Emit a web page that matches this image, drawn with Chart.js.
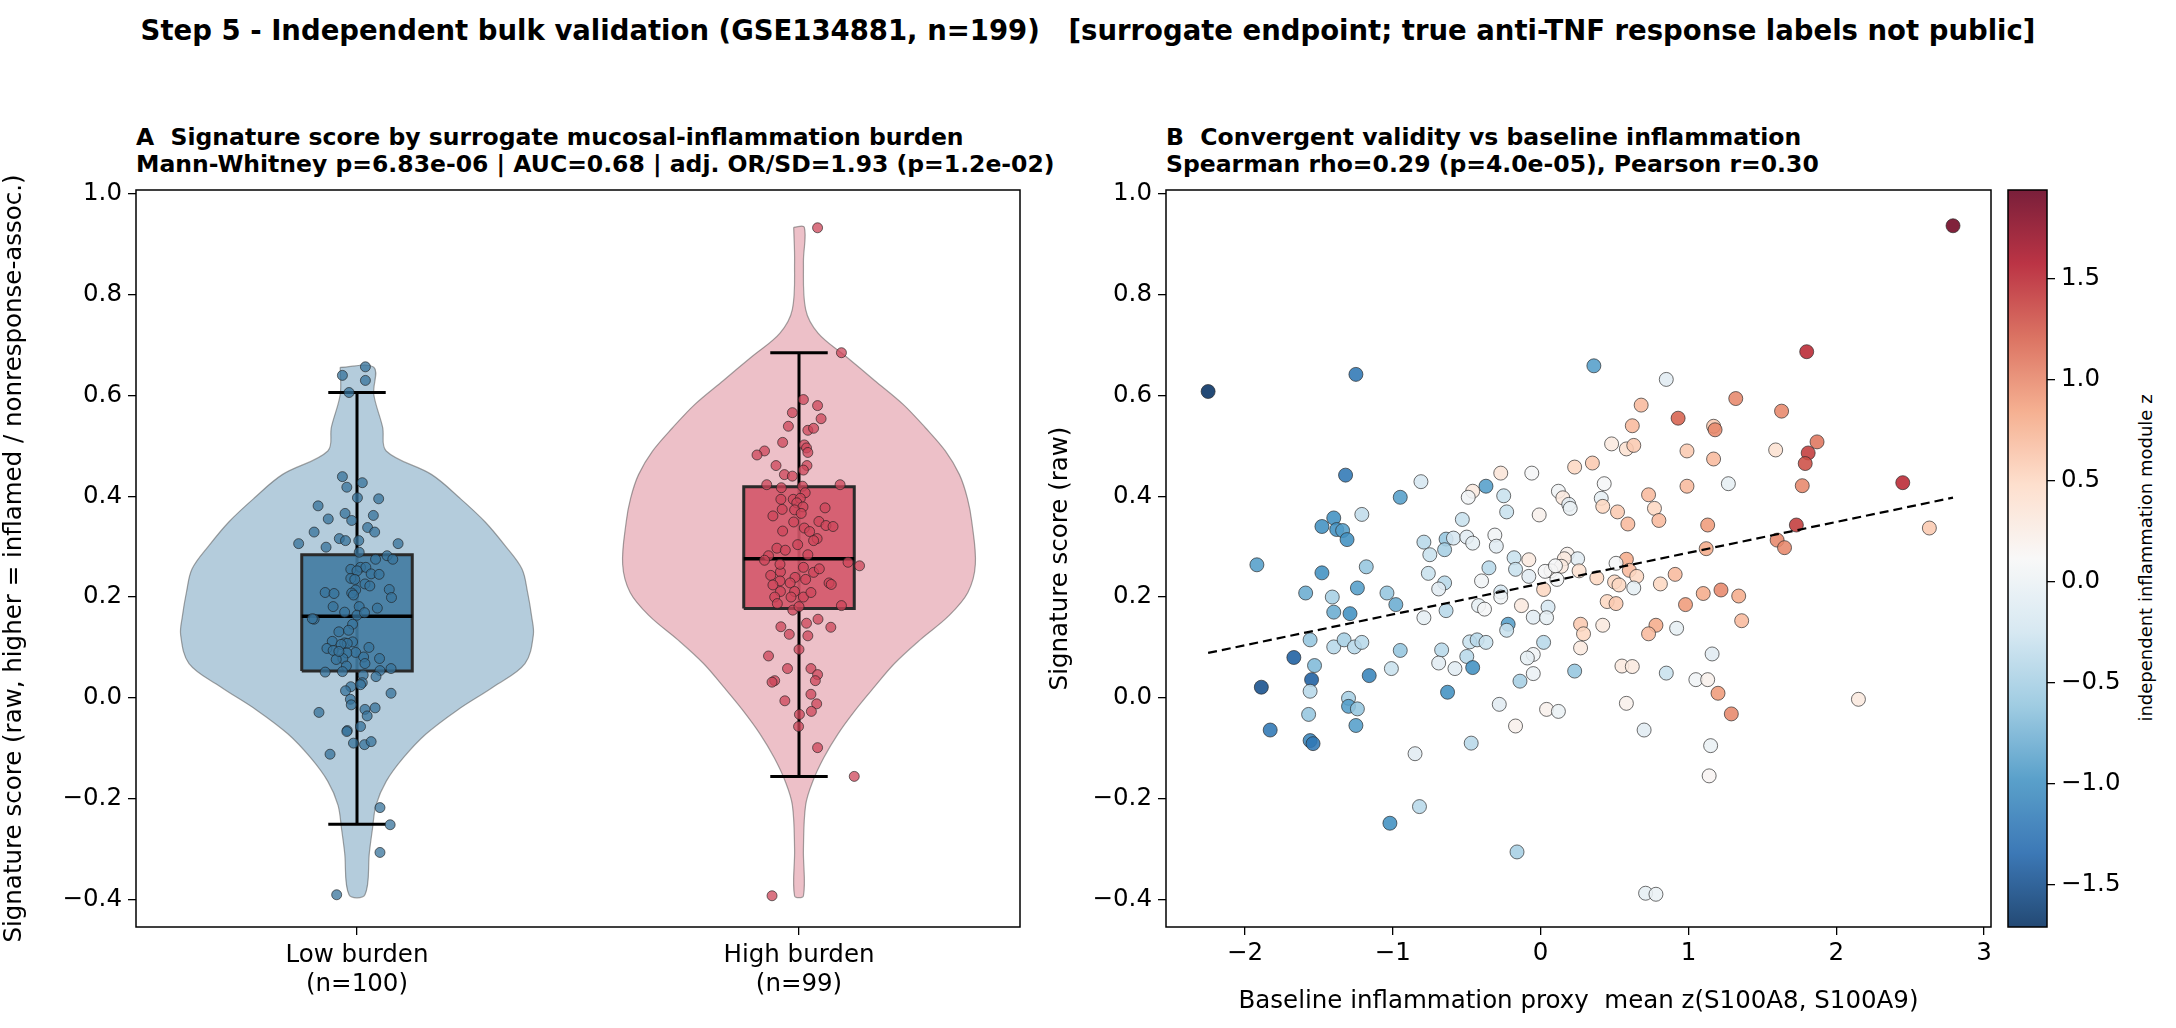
<!DOCTYPE html>
<html><head><meta charset="utf-8">
<script src="https://cdn.jsdelivr.net/npm/chart.js@4.4.1/dist/chart.umd.min.js"></script>
<style>
html,body{margin:0;padding:0;background:#fff;width:2176px;height:1028px;overflow:hidden;font-family:"DejaVu Sans",sans-serif;}
canvas{position:absolute;left:0;top:0;}
.t{position:absolute;white-space:pre;font-weight:bold;color:#000;}
</style></head><body>
<div class="t" style="left:0;width:2176px;text-align:center;top:14px;font-size:27.5px;">Step 5 - Independent bulk validation (GSE134881, n=199)   [surrogate endpoint; true anti-TNF response labels not public]</div>
<div class="t" style="left:136px;top:124px;font-size:23.5px;line-height:27px;">A  Signature score by surrogate mucosal-inflammation burden
Mann-Whitney p=6.83e-06 | AUC=0.68 | adj. OR/SD=1.93 (p=1.2e-02)</div>
<div class="t" style="left:1166px;top:124px;font-size:23.5px;line-height:27px;">B  Convergent validity vs baseline inflammation
Spearman rho=0.29 (p=4.0e-05), Pearson r=0.30</div>
<div style="position:absolute;left:2145px;top:558px;transform:translate(-50%,-50%) rotate(-90deg);font-size:18px;white-space:nowrap;">independent inflammation module z</div>
<canvas id="ca" width="2176" height="1028"></canvas>
<canvas id="cb" width="2176" height="1028"></canvas>
<canvas id="cc" width="2176" height="1028"></canvas>
<script>
// ---------- Panel A data ----------
const groupLabels = [['Low burden','(n=100)'],['High burden','(n=99)']];
const violinLowY  = [0.656,0.602,0.537,0.490,0.443,0.396,0.349,0.302,0.256,0.209,0.162,0.125,0.068,0.022,-0.025,-0.072,-0.119,-0.166,-0.213,-0.260,-0.307,-0.391];
const violinLowW  = [0.038,0.038,0.058,0.066,0.169,0.233,0.290,0.335,0.373,0.386,0.395,0.399,0.380,0.309,0.226,0.156,0.105,0.066,0.043,0.035,0.028,0.018];
const violinHighY = [0.934,0.865,0.771,0.724,0.677,0.630,0.583,0.536,0.490,0.443,0.396,0.349,0.265,0.209,0.162,0.115,0.068,0.022,-0.025,-0.072,-0.119,-0.166,-0.213,-0.300,-0.393];
const violinHighW = [0.012,0.010,0.015,0.043,0.107,0.171,0.235,0.286,0.331,0.363,0.381,0.391,0.399,0.382,0.338,0.274,0.216,0.171,0.127,0.088,0.056,0.031,0.015,0.010,0.010];
const boxLow  = {lo:-0.251, q1:0.053, med:0.162, q3:0.284, hi:0.606};
const boxHigh = {lo:-0.156, q1:0.177, med:0.276, q3:0.419, hi:0.685};
const lowJitter = [0.019,-0.033,0.019,-0.018,-0.033,0.012,-0.023,0.001,0.049,-0.088,-0.027,-0.065,0.037,-0.012,0.024,-0.097,0.040,-0.040,-0.026,0.004,-0.132,0.093,-0.070,0.005,0.068,0.042,0.081,-0.014,0.008,0.020,0.032,0.050,0.000,-0.014,0.018,0.073,-0.003,-0.072,-0.052,-0.012,0.078,-0.008,-0.054,0.046,-0.028,0.005,0.000,0.017,-0.097,-0.101,-0.010,-0.041,-0.019,-0.056,-0.028,-0.010,-0.022,-0.036,0.027,-0.068,-0.054,-0.003,-0.023,-0.032,0.015,0.051,-0.047,0.018,-0.024,0.077,-0.072,0.052,-0.033,0.014,0.043,0.012,0.008,-0.014,-0.026,0.077,-0.015,-0.013,0.041,0.018,0.023,-0.086,-0.022,-0.023,0.008,-0.008,0.017,0.032,-0.061,0.052,0.075,0.052,-0.046,-0.005,0.029,-0.041];
const lowScores = [0.657,0.640,0.630,0.606,0.439,0.427,0.418,0.397,0.395,0.381,0.366,0.355,0.362,0.352,0.338,0.329,0.329,0.316,0.312,0.312,0.306,0.306,0.299,0.289,0.282,0.275,0.275,0.255,0.259,0.259,0.246,0.245,0.252,0.237,0.226,0.215,0.214,0.209,0.207,0.208,0.199,0.204,0.181,0.178,0.170,0.181,0.164,0.169,0.156,0.157,0.146,0.131,0.134,0.112,0.109,0.111,0.108,0.106,0.100,0.098,0.094,0.090,0.089,0.078,0.081,0.078,0.076,0.068,0.063,0.058,0.051,0.054,0.052,0.045,0.042,0.030,0.026,0.022,0.014,0.009,-0.003,-0.014,-0.020,-0.023,-0.036,-0.029,-0.065,-0.067,-0.057,-0.090,-0.093,-0.087,-0.112,-0.218,-0.252,-0.307,-0.391,0.235,0.222,0.092];
const highJitter = [0.042,0.096,0.010,0.042,-0.015,0.050,-0.024,0.020,0.033,-0.037,0.012,0.017,-0.078,-0.095,0.020,-0.052,0.018,0.010,-0.033,-0.015,-0.073,-0.040,0.008,0.093,0.014,-0.013,-0.041,0.003,-0.005,0.009,0.059,-0.038,-0.010,0.005,-0.059,0.045,0.061,0.077,0.012,0.024,0.041,-0.003,-0.050,-0.069,-0.078,0.111,0.137,0.010,0.033,-0.042,-0.064,-0.009,0.015,-0.043,-0.020,-0.059,0.068,0.073,-0.042,-0.010,-0.055,0.010,-0.049,0.096,-0.014,0.000,0.043,0.017,-0.041,0.072,-0.022,0.020,0.000,-0.069,0.027,-0.026,0.042,0.037,-0.055,-0.061,0.027,-0.032,0.040,0.028,0.001,-0.001,0.042,0.125,-0.061,-0.031,0.033,-0.012,-0.037,0.020,0.046,-0.018,0.027,-0.043];
const highScores = [0.933,0.685,0.592,0.580,0.566,0.554,0.539,0.531,0.535,0.507,0.502,0.496,0.490,0.482,0.487,0.461,0.461,0.452,0.443,0.440,0.423,0.417,0.420,0.423,0.407,0.394,0.394,0.396,0.387,0.379,0.377,0.374,0.373,0.366,0.361,0.350,0.342,0.340,0.337,0.330,0.316,0.304,0.297,0.282,0.273,0.269,0.262,0.259,0.249,0.250,0.243,0.239,0.235,0.232,0.228,0.224,0.228,0.225,0.211,0.211,0.200,0.200,0.187,0.183,0.174,0.181,0.156,0.148,0.141,0.140,0.126,0.123,0.096,0.083,0.058,0.058,0.046,0.034,0.034,0.031,0.007,-0.006,-0.012,-0.027,-0.033,-0.057,-0.099,-0.156,-0.393,0.293,0.312,0.349,0.331,0.284,0.256,0.200,0.209,0.265];
const yTicksA = [-0.4,-0.2,0.0,0.2,0.4,0.6,0.8,1.0];

// ---------- Panel B data ----------
const proxyX = [2.79,-2.25,-1.25,0.36,1.80,0.85,1.32,0.68,0.93,1.63,0.62,1.17,1.18,0.48,0.58,0.63,0.99,1.59,1.87,1.81,1.79,1.17,0.23,0.35,-0.27,-0.06,-1.32,0.99,1.77,1.27,2.45,-0.81,-0.37,-0.46,-0.49,-0.25,-0.95,0.12,0.15,0.19,0.20,0.43,0.41,0.42,0.52,0.73,0.77,0.80,0.59,-0.01,-0.23,-1.21,-1.40,-1.48,-1.38,-1.34,-1.31,1.13,1.73,2.63,1.60,1.65,1.12,-0.53,-0.31,-0.30,-0.79,-0.64,-0.59,-0.50,-0.46,-0.75,-0.65,-0.18,-0.08,0.18,0.25,0.16,0.14,0.07,0.03,0.26,0.38,0.11,0.02,-0.17,-0.08,0.58,0.51,0.60,0.65,0.50,0.53,0.63,0.81,0.91,1.10,1.22,1.34,0.98,1.36,-0.76,-0.35,-0.65,-0.69,-0.40,-0.27,-0.27,-0.42,-0.38,-0.13,0.05,-0.05,0.04,0.45,0.51,0.27,0.42,0.78,0.73,0.92,0.29,0.27,-0.79,-0.64,-0.98,-1.04,-1.24,-1.18,-1.48,-1.92,-1.59,-1.41,-1.40,-1.29,-0.22,-0.23,-1.56,-1.40,-1.33,-1.26,-1.21,-0.95,-1.67,-1.53,-1.55,-1.56,-1.89,-1.16,-1.01,-0.67,-0.69,-0.58,-0.50,-0.48,-0.43,-0.37,-0.46,0.02,-0.05,-0.09,-0.05,-0.14,0.23,0.55,0.62,0.85,1.16,1.05,1.13,1.20,1.29,2.15,0.58,0.04,0.12,-0.28,-0.17,-0.63,-1.30,-1.30,-1.24,-1.57,-1.25,-1.83,-1.56,-1.54,-0.47,-0.85,0.70,1.15,1.14,-0.82,-1.02,-0.16,0.71,0.78,0.10];
const scoreY = [0.937,0.608,0.642,0.659,0.687,0.632,0.594,0.581,0.555,0.569,0.540,0.539,0.532,0.504,0.494,0.501,0.490,0.492,0.508,0.486,0.465,0.474,0.458,0.466,0.446,0.446,0.442,0.420,0.421,0.425,0.427,0.429,0.420,0.410,0.398,0.401,0.398,0.410,0.397,0.384,0.376,0.425,0.396,0.380,0.369,0.403,0.376,0.352,0.345,0.363,0.369,0.364,0.357,0.340,0.334,0.332,0.314,0.343,0.343,0.337,0.313,0.298,0.296,0.354,0.323,0.301,0.309,0.315,0.317,0.319,0.307,0.284,0.294,0.278,0.274,0.285,0.276,0.276,0.261,0.252,0.251,0.252,0.238,0.235,0.215,0.255,0.241,0.275,0.267,0.253,0.241,0.230,0.224,0.218,0.226,0.245,0.207,0.214,0.202,0.185,0.153,0.247,0.258,0.228,0.216,0.232,0.210,0.200,0.183,0.176,0.183,0.180,0.160,0.159,0.191,0.187,0.146,0.144,0.144,0.127,0.138,0.127,0.099,0.159,0.173,0.185,0.208,0.218,0.260,0.248,0.264,0.208,0.200,0.170,0.167,0.146,0.134,0.115,0.101,0.115,0.101,0.110,0.094,0.080,0.064,0.036,0.013,0.021,0.044,0.058,0.095,0.069,0.058,0.082,0.111,0.115,0.110,0.060,0.110,0.086,0.079,0.048,0.033,0.053,0.063,0.062,0.049,0.087,0.036,0.036,0.009,-0.032,-0.003,-0.011,-0.023,-0.027,-0.013,-0.056,0.011,-0.001,-0.017,-0.022,-0.033,-0.055,-0.064,-0.085,-0.091,-0.090,-0.111,-0.064,-0.095,-0.155,-0.216,-0.249,-0.306,-0.388,-0.390,0.262];
const moduleZ = [1.9,-1.7,-1.2,-0.9,1.5,-0.1,1.0,0.7,1.2,1.0,0.7,0.6,1.0,0.3,0.4,0.6,0.6,0.4,1.1,1.4,1.3,0.7,0.5,0.6,0.35,0.1,-1.2,0.7,1.0,-0.05,1.5,-0.2,-0.9,0.3,0.05,-0.3,-0.9,0.05,0.3,-0.1,0.0,0.1,-0.05,0.5,0.6,0.7,0.5,0.7,0.7,0.2,-0.3,-0.35,-1.0,-1.0,-1.0,-0.9,-1.0,0.9,1.4,0.6,1.0,1.0,0.8,-0.3,0.05,-0.1,-0.4,-0.6,-0.2,-0.1,-0.05,-0.3,-0.5,-0.3,0.3,0.2,-0.1,0.3,0.3,0.2,0.1,0.4,0.5,0.1,0.5,-0.3,-0.1,0.8,0.1,0.7,0.5,0.5,0.5,-0.05,0.5,0.7,0.8,1.0,0.8,0.9,0.7,-0.3,-0.4,-0.4,-0.1,0.05,-0.2,0.05,-0.05,0.1,0.3,-0.2,-0.1,-0.05,0.5,0.6,0.6,0.3,0.8,0.7,-0.05,0.5,0.3,-0.05,-0.4,-0.8,-0.6,-0.9,-0.6,-1.0,-0.9,-0.8,-0.5,-0.8,-1.0,-0.9,-0.3,-0.6,-0.4,-0.5,-0.4,-0.4,-0.6,-1.4,-0.7,-1.4,-0.4,-1.5,-1.1,-0.3,-0.4,-0.1,-0.1,-0.4,-0.3,-0.4,-0.3,-1.0,-0.4,0.05,-0.05,0.0,-0.5,-0.6,0.3,0.3,-0.3,-0.1,0.05,0.2,0.9,1.0,0.3,0.2,0.2,0.0,-0.1,0.2,-1.0,-0.5,-0.9,-0.6,-0.6,-0.9,-1.2,-1.1,-1.2,-0.4,-0.1,-0.1,0.0,0.15,-0.4,-1.0,-0.5,-0.05,0.0,0.1];
const xTicksB = [-2,-1,0,1,2,3];
const yTicksB = [-0.4,-0.2,0.0,0.2,0.4,0.6,0.8,1.0];
const cbarTicks = [-1.5,-1.0,-0.5,0.0,0.5,1.0,1.5];
const zMin = -1.71, zMax = 1.94;

// ---------- helpers ----------
const FONT = {family:'"DejaVu Sans", sans-serif', size:24.5};
const minus = s => String(s).replace('-', '\u2212');
const RdBu_r = ['#053061','#2166ac','#4393c3','#92c5de','#d1e5f0','#f7f7f7','#fddbc7','#f4a582','#d6604d','#b2182b','#67001f'];
function hex(h){return [1,3,5].map(i=>parseInt(h.substr(i,2),16));}
function cmap(z, a){
  let t = Math.max(0, Math.min(1,(z-zMin)/(zMax-zMin)))*(RdBu_r.length-1);
  const i = Math.min(RdBu_r.length-2, Math.floor(t)), f = t-i;
  const c0 = hex(RdBu_r[i]), c1 = hex(RdBu_r[i+1]);
  const c = c0.map((v,k)=>Math.round(v+(c1[k]-v)*f));
  return a===undefined ? `rgb(${c})` : `rgba(${c},${a})`;
}
const frame = {id:'frame', afterDraw(ch){const a=ch.chartArea,c=ch.ctx;c.save();c.strokeStyle='#000';c.lineWidth=1.5;c.strokeRect(a.left,a.top,a.right-a.left,a.bottom-a.top);c.restore();}};
function fixW(w){return s=>{s.width=w;};}
function fixH(h){return s=>{s.height=h;};}
function axisGrid(){return {display:true, drawOnChartArea:false, color:'#000', tickLength:8, lineWidth:1.3};}

function violin(c, ys, ws){
  const pts = ys.map((y,i)=>({x:c-ws[i], y}));
  for (let i=ys.length-1;i>=0;i--) pts.push({x:c+ws[i], y:ys[i]});
  pts.push(pts[0]);
  return pts;
}
function boxPoly(c, b, hw){return [{x:c-hw,y:b.q1},{x:c+hw,y:b.q1},{x:c+hw,y:b.q3},{x:c-hw,y:b.q3},{x:c-hw,y:b.q1}];}
function lineDS(data, color, w, order){return {type:'scatter', data, showLine:true, borderColor:color, borderWidth:w, pointRadius:0, fill:false, order};}

// ---------- Panel A ----------
const dsA = [];
[[0, violinLowY, violinLowW, 'rgba(106,153,186,0.5)', boxLow, 'rgba(66,124,162,0.9)', lowScores, lowJitter, 'rgba(55,115,155,0.75)'],
 [1, violinHighY, violinHighW, 'rgba(220,130,146,0.5)', boxHigh, 'rgba(212,88,106,0.9)', highScores, highJitter, 'rgba(205,70,90,0.75)']
].forEach(([c, vy, vw, vcol, b, bcol, sc, jit, pcol])=>{
  dsA.push({type:'scatter', data:violin(c,vy,vw), showLine:true, tension:0.35, borderColor:'rgba(90,90,90,0.55)', borderWidth:1.2, backgroundColor:vcol, fill:'shape', pointRadius:0, order:10});
  dsA.push(lineDS([{x:c,y:b.lo},{x:c,y:b.hi}], '#000', 3, 9));
  dsA.push({type:'scatter', data:boxPoly(c,b,0.125), showLine:true, borderColor:'#2a2a2a', borderWidth:3, backgroundColor:bcol, fill:'shape', pointRadius:0, order:8});
  dsA.push(lineDS([{x:c-0.125,y:b.med},{x:c+0.125,y:b.med}], '#000', 3.5, 7));
  dsA.push(lineDS([{x:c-0.065,y:b.hi},{x:c+0.065,y:b.hi}], '#000', 3, 7));
  dsA.push(lineDS([{x:c-0.065,y:b.lo},{x:c+0.065,y:b.lo}], '#000', 3, 7));
  dsA.push({type:'scatter', data:sc.map((y,i)=>({x:c+jit[i], y})), pointRadius:5, pointBackgroundColor:pcol, pointBorderColor:'rgba(30,30,30,0.8)', pointBorderWidth:0.8, order:1});
});
new Chart(document.getElementById('ca'), {
  type:'scatter', data:{datasets:dsA}, plugins:[frame],
  options:{responsive:false, animation:false, devicePixelRatio:1,
    layout:{padding:{left:0, top:190, right:1156, bottom:0}},
    plugins:{legend:{display:false}, tooltip:{enabled:false}},
    scales:{
      x:{type:'linear', min:-0.5, max:1.5, afterFit:fixH(101), grid:axisGrid(), border:{display:false},
         afterBuildTicks:s=>{s.ticks=[{value:0},{value:1}];},
         ticks:{color:'#000', font:FONT, padding:6, maxRotation:0, callback:v=>groupLabels[v]}},
      y:{type:'linear', min:-0.455, max:1.008, afterFit:fixW(136), grid:axisGrid(), border:{display:false},
         afterBuildTicks:s=>{s.ticks=yTicksA.map(v=>({value:v}));},
         ticks:{color:'#000', font:FONT, padding:6, callback:v=>minus(v.toFixed(1))},
         title:{display:true, text:'Signature score (raw, higher = inflamed / nonresponse-assoc.)', color:'#000', font:FONT, padding:{top:0,bottom:4}}}
    }}
});

// ---------- Panel B ----------
const n = proxyX.length;
const mx = proxyX.reduce((a,b)=>a+b,0)/n, my = scoreY.reduce((a,b)=>a+b,0)/n;
let sxy=0,sxx=0; for(let i=0;i<n;i++){sxy+=(proxyX[i]-mx)*(scoreY[i]-my); sxx+=(proxyX[i]-mx)**2;}
const slope=sxy/sxx, icpt=my-slope*mx;
const xlo=Math.min(...proxyX), xhi=Math.max(...proxyX);
new Chart(document.getElementById('cb'), {
  type:'scatter',
  data:{datasets:[
    {data:proxyX.map((x,i)=>({x,y:scoreY[i]})), pointRadius:7, pointBackgroundColor:moduleZ.map(z=>cmap(z,0.88)), pointBorderColor:'rgba(40,40,40,0.85)', pointBorderWidth:0.8, order:2},
    {data:[{x:xlo,y:icpt+slope*xlo},{x:xhi,y:icpt+slope*xhi}], showLine:true, borderColor:'#000', borderDash:[9,5], borderWidth:2.2, pointRadius:0, order:1}
  ]}, plugins:[frame],
  options:{responsive:false, animation:false, devicePixelRatio:1,
    layout:{padding:{left:1046, top:190, right:185, bottom:0}},
    plugins:{legend:{display:false}, tooltip:{enabled:false}},
    scales:{
      x:{type:'linear', min:-2.535, max:3.047, afterFit:fixH(101), grid:axisGrid(), border:{display:false},
         afterBuildTicks:s=>{s.ticks=xTicksB.map(v=>({value:v}));},
         ticks:{color:'#000', font:FONT, padding:4, callback:v=>minus(v)},
         title:{display:true, text:'Baseline inflammation proxy  mean z(S100A8, S100A9)', color:'#000', font:FONT, padding:{top:0,bottom:12}}},
      y:{type:'linear', min:-0.455, max:1.008, afterFit:fixW(120), grid:axisGrid(), border:{display:false},
         afterBuildTicks:s=>{s.ticks=yTicksB.map(v=>({value:v}));},
         ticks:{color:'#000', font:FONT, padding:6, callback:v=>minus(v.toFixed(1))},
         title:{display:true, text:'Signature score (raw)', color:'#000', font:FONT, padding:{top:0,bottom:4}}}
    }}
});

// ---------- Colorbar ----------
const cbarPlugin = {id:'cbar', beforeDatasetsDraw(ch){
  const a=ch.chartArea, c=ch.ctx, y=ch.scales.y;
  const g=c.createLinearGradient(0,y.getPixelForValue(zMin),0,y.getPixelForValue(zMax));
  for(let k=0;k<=40;k++){const z=zMin+(zMax-zMin)*k/40; g.addColorStop(k/40, cmap(z,0.88));}
  c.save(); c.fillStyle=g; c.fillRect(a.left,a.top,a.right-a.left,a.bottom-a.top); c.restore();
}};
new Chart(document.getElementById('cc'), {
  type:'scatter', data:{datasets:[{data:[]}]}, plugins:[cbarPlugin, frame],
  options:{responsive:false, animation:false, devicePixelRatio:1,
    layout:{padding:{left:2008, top:190, right:0, bottom:101}},
    plugins:{legend:{display:false}, tooltip:{enabled:false}},
    scales:{
      x:{display:false, min:0, max:1},
      y:{type:'linear', position:'right', min:zMin, max:zMax, afterFit:fixW(129), grid:axisGrid(), border:{display:false},
         afterBuildTicks:s=>{s.ticks=cbarTicks.map(v=>({value:v}));},
         ticks:{color:'#000', font:FONT, padding:6, callback:v=>minus(v.toFixed(1))}}
    }}
});
</script>
</body></html>
